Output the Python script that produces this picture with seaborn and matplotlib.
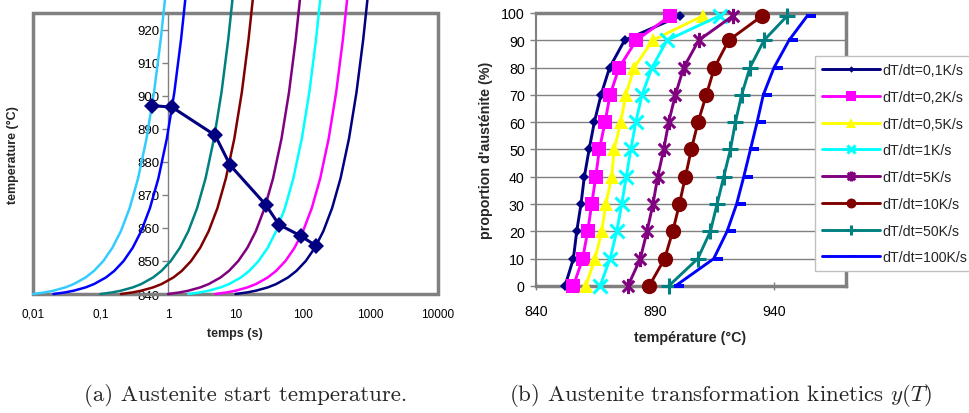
import numpy as np
import matplotlib
matplotlib.use('Agg')
import matplotlib.pyplot as plt
import seaborn as sns
from matplotlib.path import Path
from matplotlib.patches import Rectangle
from matplotlib.ticker import FixedLocator, FixedFormatter, NullLocator


sns.set_theme(style='white')
plt.rcParams['font.family'] = ['Liberation Sans', 'DejaVu Sans']
plt.rcParams['mathtext.fontset'] = 'cm'

# ---- (a) heating curves: temperature levels and the time (s) to reach them
curve_temps = [840, 840.5, 841, 842, 843, 845, 847, 850, 854, 859, 866, 875, 887, 901, 917, 929]
t_100K = [0.01, 0.015, 0.02, 0.03, 0.04, 0.06, 0.08, 0.11, 0.15, 0.2, 0.27, 0.36, 0.48, 0.62, 0.78, 0.9]
t_50K = [0.02, 0.03, 0.04, 0.06, 0.08, 0.12, 0.16, 0.22, 0.3, 0.4, 0.54, 0.72, 0.96, 1.24, 1.56, 1.8]
t_10K = [0.1, 0.15, 0.2, 0.3, 0.4, 0.6, 0.8, 1.1, 1.5, 2, 2.7, 3.6, 4.8, 6.2, 7.8, 9]
t_5K = [0.2, 0.3, 0.4, 0.6, 0.8, 1.2, 1.6, 2.2, 3, 4, 5.4, 7.2, 9.6, 12.4, 15.6, 18]
t_1K = [1, 1.5, 2, 3, 4, 6, 8, 11, 15, 20, 27, 36, 48, 62, 78, 90]
t_05K = [2, 3, 4, 6, 8, 12, 16, 22, 30, 40, 54, 72, 96, 124, 156, 180]
t_02K = [5, 7.5, 10, 15, 20, 30, 40, 55, 75, 100, 135, 180, 240, 310, 390, 450]
t_01K = [10, 15, 20, 30, 40, 60, 80, 110, 150, 200, 270, 360, 480, 620, 780, 900]
curve_colors = ['#33CCFF', '#0000FF', '#008080', '#800000', '#800080', '#00FFFF', '#FF00FF', '#000080']

# austenite start points
start_times = [0.58, 1.15, 5.0, 8.3, 28, 44, 94, 158]
start_temps = [897, 896.5, 888, 879, 867, 861, 857.5, 854.5]

time_ticks = [0.01, 0.1, 1, 10, 100, 1000, 10000]
time_labels = ['0,01', '0,1', '1', '10', '100', '1000', '10000']

# ---- (b) transformation kinetics
fraction = [0, 10, 20, 30, 40, 50, 60, 70, 80, 90, 99]
T_01K = [852.2, 855.7, 857.1, 858.9, 860.3, 862.3, 864.5, 867.3, 870.9, 877.2, 900.6]
T_02K = [855.7, 859.6, 861.7, 863.4, 865.1, 866.6, 869.0, 871.1, 874.9, 882.1, 896.4]
T_05K = [860.9, 864.8, 867.6, 869.3, 871.8, 872.8, 875.6, 877.7, 881.2, 889.0, 910.1]
T_1K = [866.9, 871.1, 873.9, 876.0, 877.9, 879.8, 881.9, 884.5, 888.7, 895.0, 917.1]
T_5K = [878.6, 883.8, 886.6, 889.1, 891.1, 893.6, 895.7, 898.5, 902.0, 908.3, 922.7]
T_10K = [887.5, 894.0, 897.4, 900.2, 902.7, 905.2, 908.0, 911.5, 914.9, 920.9, 935.0]
T_50K = [895.7, 907.9, 913.2, 916.0, 918.8, 921.6, 923.7, 926.3, 929.8, 935.7, 945.5]
T_100K = [898.5, 914.6, 920.2, 924.2, 927.2, 930.0, 932.8, 935.4, 939.9, 946.2, 953.9]
rate_labels = ['dT/dt=0,1K/s', 'dT/dt=0,2K/s', 'dT/dt=0,5K/s', 'dT/dt=1K/s',
               'dT/dt=5K/s', 'dT/dt=10K/s', 'dT/dt=50K/s', 'dT/dt=100K/s']
rate_colors = ['#000080', '#FF00FF', '#FFFF00', '#00FFFF', '#800080', '#800000', '#008080', '#0000FF']

GRAY = '#808080'

# excel-like "star" marker: vertical bar + X
star = Path([(0, -1), (0, 1), (-0.75, -0.75), (0.75, 0.75), (-0.75, 0.75), (0.75, -0.75)],
            [Path.MOVETO, Path.LINETO, Path.MOVETO, Path.LINETO, Path.MOVETO, Path.LINETO])
# excel "dash" marker sits to the right of the point
dash = Path([(-0.1, -0.17), (1, -0.17), (1, 0.17), (-0.1, 0.17), (-0.1, -0.17)],
            [Path.MOVETO, Path.LINETO, Path.LINETO, Path.LINETO, Path.CLOSEPOLY])
rate_markers = [
    dict(marker='D', markersize=5, mew=0),
    dict(marker='s', markersize=10.5, mew=0),
    dict(marker='^', markersize=10.5, mew=0),
    dict(marker='x', markersize=9.5, mew=2.2),
    dict(marker=star, markersize=11, mew=2.2, mfc='none'),
    dict(marker='o', markersize=11, mew=0),
    dict(marker='+', markersize=11, mew=2.2),
    dict(marker=dash, markersize=13, mew=0),
]

fig = plt.figure(figsize=(9.69, 4.14), dpi=100)
fig.patch.set_facecolor('white')

# ================= (a)
ax1 = fig.add_axes([0.0341, 0.2874, 0.4179, 0.6788])
ax1.set_xscale('log')
ax1.set_facecolor('white')

for times, color in zip([t_100K, t_50K, t_10K, t_5K, t_1K, t_05K, t_02K, t_01K], curve_colors):
    sns.lineplot(x=times, y=curve_temps, ax=ax1, color=color, lw=1.8,
                 sort=False, estimator=None, clip_on=False, zorder=3)

sns.lineplot(x=start_times, y=start_temps, ax=ax1, color='#000080', lw=2.2,
             marker='D', markersize=8.5, mec='#000080', mew=0,
             sort=False, estimator=None, clip_on=False, zorder=4)

ax1.set_xlim(0.01, 10000)
ax1.set_ylim(840, 925)
ax1.xaxis.set_major_locator(FixedLocator(time_ticks))
ax1.xaxis.set_major_formatter(FixedFormatter(time_labels))
ax1.xaxis.set_minor_locator(NullLocator())
ax1.set_yticks(range(840, 921, 10))

for side in ['top', 'right', 'bottom']:
    ax1.spines[side].set_visible(False)
ax1.spines['left'].set_position(('data', 1))
ax1.spines['left'].set_color(GRAY)
ax1.spines['left'].set_linewidth(1)
ax1.add_patch(Rectangle((0, 0), 1, 1, transform=ax1.transAxes, fill=False,
                        ec=GRAY, lw=2.5, clip_on=False, zorder=1.5))

ax1.tick_params(axis='y', direction='out', length=4, color=GRAY, width=1,
                labelsize=9.5, pad=2, labelcolor='black', left=True)
ax1.tick_params(axis='x', length=0, labelsize=8.5, pad=10, labelcolor='black')

ax1.set_xlabel('temps (s)', fontsize=9, fontweight='bold')
ax1.set_ylabel('temperature (°C)', fontsize=9, fontweight='bold')
ax1.xaxis.set_label_coords(0.499, -0.118)
ax1.yaxis.set_label_coords(-0.035, 0.498)

# ================= (b)
ax2 = fig.add_axes([0.5531, 0.3068, 0.3197, 0.6594])
ax2.set_facecolor('white')

for temps, color, label, mk in zip([T_01K, T_02K, T_05K, T_1K, T_5K, T_10K, T_50K, T_100K],
                                   rate_colors, rate_labels, rate_markers):
    sns.lineplot(x=temps, y=fraction, ax=ax2, color=color, lw=2.1, label=label,
                 mec=color, sort=False, estimator=None, clip_on=False, zorder=3, **mk)

ax2.set_xlim(840, 970)
ax2.set_ylim(0, 100)
ax2.set_xticks([840, 890, 940])
ax2.set_yticks(range(0, 101, 10))
ax2.yaxis.grid(True, color=GRAY, lw=1)
ax2.xaxis.grid(False)
for side in ['top', 'right', 'bottom', 'left']:
    ax2.spines[side].set_color(GRAY)
    ax2.spines[side].set_linewidth(2.5)
ax2.spines['left'].set_linewidth(1.5)

ax2.tick_params(axis='y', direction='out', length=4, color=GRAY, width=1,
                labelsize=10.3, pad=4, labelcolor='black', left=True)
ax2.tick_params(axis='x', direction='inout', length=6, color=GRAY, width=1,
                labelsize=10.3, pad=10, labelcolor='black', bottom=True)

ax2.set_xlabel('température (°C)', fontsize=10.3, fontweight='bold')
ax2.set_ylabel("proportion d'austénite (%)", fontsize=10.3, fontweight='bold')
ax2.xaxis.set_label_coords(0.497, -0.16)
ax2.yaxis.set_label_coords(-0.139, 0.502)

handles = [l for l in ax2.get_lines() if not l.get_label().startswith('_')]
leg = ax2.legend(handles, rate_labels, loc='upper left',
                 bbox_to_anchor=(815 / 969, 1 - 57 / 414), bbox_transform=fig.transFigure,
                 fontsize=10.2, frameon=True, fancybox=False, edgecolor='#C0C0C0',
                 framealpha=1, handlelength=4.1, handletextpad=0.15, markerscale=0.65,
                 labelspacing=0.9, borderpad=0.5, borderaxespad=0, numpoints=1)
leg.get_frame().set_linewidth(1)
leg.set_zorder(5)

# ================= captions
fig.text(246 / 969, 1 - 396 / 414, '(a) Austenite start temperature.',
         family='cmr10', fontsize=16.5, ha='center', va='center')
fig.text(721 / 969, 1 - 396 / 414, '(b) Austenite transformation kinetics $y(T)$',
         family='cmr10', fontsize=16.5, ha='center', va='center')

fig.savefig('out.png', dpi=100)
